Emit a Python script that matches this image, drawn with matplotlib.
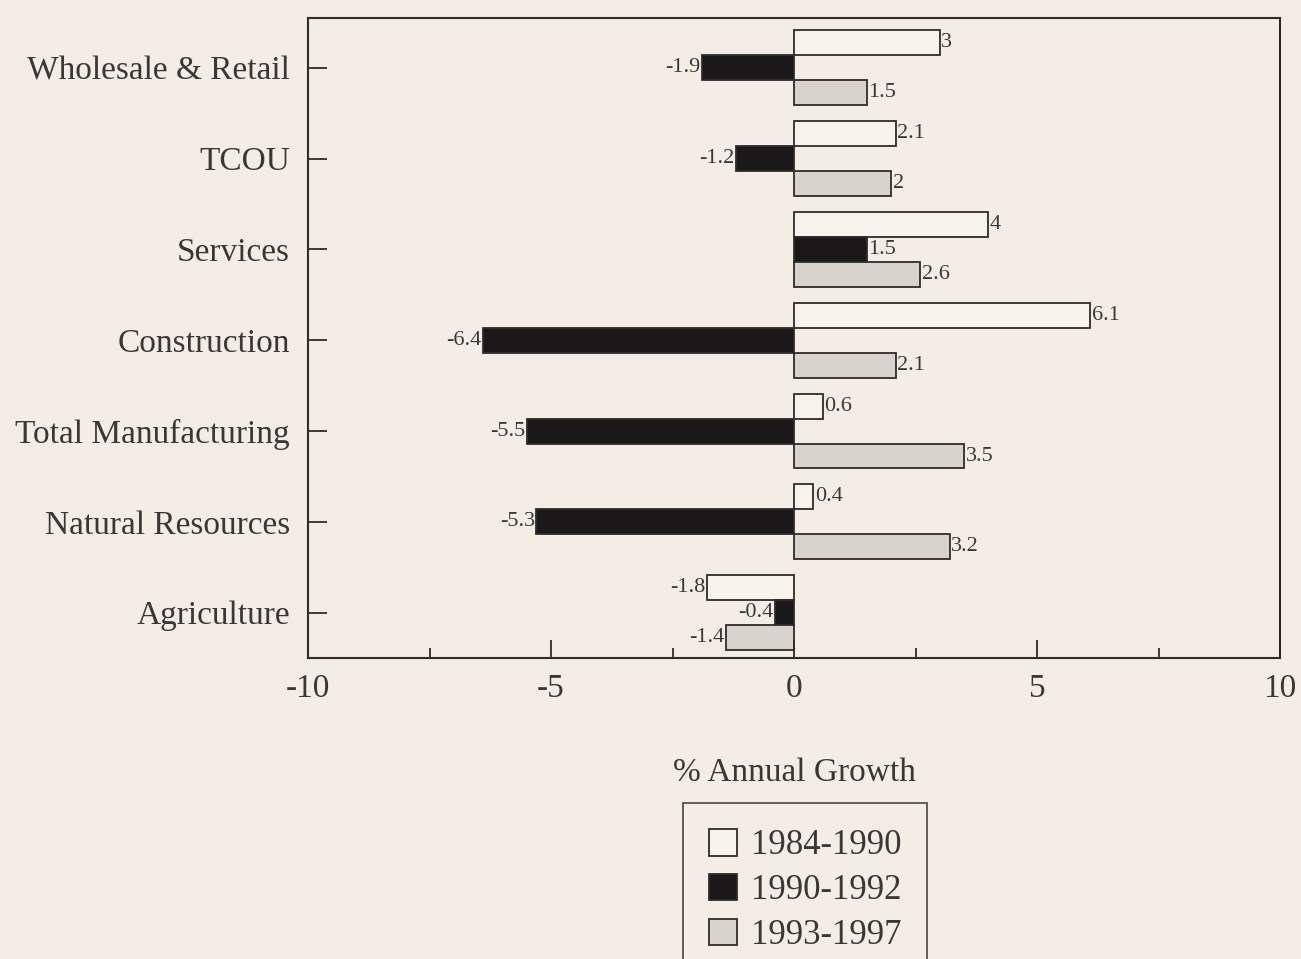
import numpy as np
import matplotlib.pyplot as plt

sectors = ["Agriculture", "Natural Resources", "Total Manufacturing",
           "Construction", "Services", "TCOU", "Wholesale & Retail"]
g_1984_1990 = [-1.8, 0.4, 0.6, 6.1, 4, 2.1, 3]
g_1990_1992 = [-0.4, -5.3, -5.5, -6.4, 1.5, -1.2, -1.9]
g_1993_1997 = [-1.4, 3.2, 3.5, 2.1, 2.6, 2, 1.5]
periods = ["1984-1990", "1990-1992", "1993-1997"]
xtick_vals = [-10, -5, 0, 5, 10]
xtick_text = ["-10", "-5", "0", "5", "10"]

bg = "#f3ede5"
ink = "#2e2c2a"
txt = "#3a3836"
plt.rcParams["font.family"] = ["Liberation Serif", "DejaVu Serif"]

fig = plt.figure(figsize=(13.01, 9.59), dpi=100, facecolor=bg)
ax = fig.add_axes([308 / 1301, 1 - 658 / 959, 972 / 1301, 640 / 959])
ax.set_facecolor(bg)

y = np.arange(len(sectors))
h = 0.275
series = [
    (g_1984_1990, h, "#f7f2ec"),
    (g_1990_1992, 0, "#1a1818"),
    (g_1993_1997, -h, "#d8d3cd"),
]
for (vals, off, col), name in zip(series, periods):
    bars = ax.barh(y + off, vals, height=h, color=col, edgecolor=ink,
                   linewidth=1.3, label=name)
    ax.bar_label(bars, fmt="{:g}", padding=1, fontsize=16, color=txt)

ax.set_xlim(-10, 10)
ax.set_ylim(-0.5, 6.55)
ax.set_yticks(y)
ax.set_yticklabels(sectors, fontsize=24, color=txt)
ax.set_xticks(xtick_vals)
ax.set_xticklabels(xtick_text, fontsize=24, color=txt)
ax.set_xticks([-7.5, -2.5, 2.5, 7.5], minor=True)
ax.tick_params(axis="y", direction="in", length=14, width=1.3, color=ink, pad=13)
ax.tick_params(axis="x", which="major", direction="in", length=13, width=1.3,
               color=ink, pad=11)
ax.tick_params(axis="x", which="minor", direction="in", length=7, width=1.3,
               color=ink)
for s in ax.spines.values():
    s.set_color(ink)
    s.set_linewidth(1.5)

ax.set_xlabel("% Annual Growth", fontsize=24, color=txt, labelpad=39)

leg = fig.legend(loc="upper left", bbox_to_anchor=(683 / 1301, 1 - 803 / 959),
                 borderaxespad=0, fontsize=25, frameon=True, fancybox=False,
                 edgecolor=ink, facecolor=bg, handlelength=0.8,
                 handleheight=0.8, handletextpad=0.4, labelspacing=0.33,
                 borderpad=0.75)
leg.get_frame().set_linewidth(1.3)
for t in leg.get_texts():
    t.set_color(txt)

fig.savefig("out.png", dpi=100, facecolor=bg)
